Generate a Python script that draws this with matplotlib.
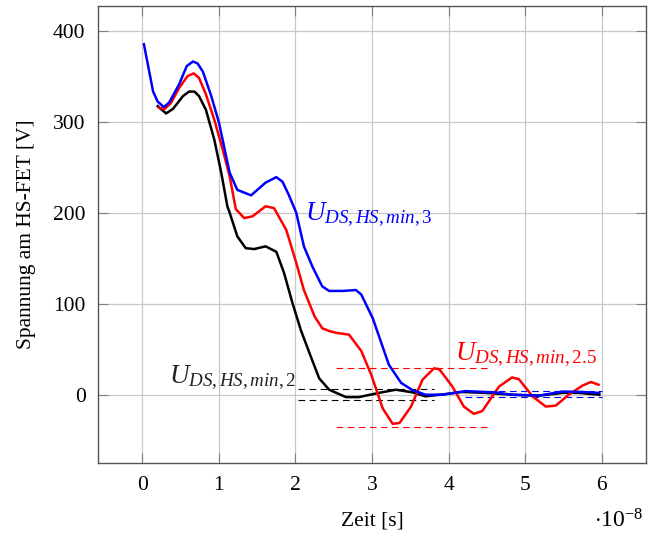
import numpy as np
import matplotlib.pyplot as plt

plt.rcParams['font.family'] = ['Liberation Serif', 'DejaVu Serif']
plt.rcParams['mathtext.fontset'] = 'custom'
plt.rcParams['mathtext.rm'] = 'Liberation Serif'
plt.rcParams['mathtext.it'] = 'Liberation Serif:italic'

# Zeit in Einheiten von 1e-8 s, Spannung in V
t_blue = [0.02, 0.14, 0.20, 0.28, 0.35, 0.48, 0.58, 0.66, 0.72, 0.79, 0.90, 1.00,
          1.14, 1.24, 1.42, 1.61, 1.75, 1.83, 1.91, 2.01, 2.11, 2.22, 2.35, 2.44,
          2.62, 2.79, 2.86, 3.01, 3.22, 3.38, 3.53, 3.70, 3.92, 4.22, 4.61, 4.83,
          5.18, 5.49, 5.75, 5.97]
u_blue = [385, 333, 322, 316, 321, 341, 361, 366, 364, 355, 328, 299,
          244, 225, 219, 233, 239, 234, 220, 200, 163, 141, 119, 114,
          114, 115, 110, 84, 33, 13, 5, 0, 0, 4, 2.5, 0,
          -1, 3.5, 3, 2]

t_red = [0.22, 0.29, 0.37, 0.48, 0.59, 0.67, 0.74, 0.83, 0.94, 1.05, 1.14, 1.22,
         1.33, 1.44, 1.61, 1.72, 1.88, 2.01, 2.11, 2.25, 2.35, 2.44, 2.53, 2.70,
         2.86, 2.99, 3.14, 3.27, 3.36, 3.51, 3.66, 3.81, 3.88, 4.05, 4.20, 4.33,
         4.44, 4.66, 4.83, 4.92, 5.10, 5.27, 5.40, 5.57, 5.75, 5.86, 5.96]
u_red = [315, 314, 320, 337, 350, 353, 348, 330, 302, 269, 240, 204,
         194, 196, 207, 205, 181, 145, 115, 86, 73, 70, 68, 66,
         48, 22, -15, -32, -31, -13, 16.5, 29, 28, 9, -13, -21,
         -18, 9, 19, 17, -2, -13, -12, 0, 10, 14, 11]

t_black = [0.20, 0.31, 0.40, 0.53, 0.61, 0.68, 0.74, 0.83, 0.94, 1.03, 1.11, 1.14,
           1.24, 1.35, 1.46, 1.61, 1.75, 1.85, 1.96, 2.07, 2.20, 2.31, 2.44, 2.66,
           2.83, 3.09, 3.31, 3.53, 3.70, 3.96, 4.18, 4.49, 4.83, 5.18, 5.49, 5.70,
           5.97]
u_black = [317, 309, 314, 328, 333, 333, 328, 313, 280, 244, 207, 200,
           174, 161, 160, 163, 157, 134, 101, 71, 42, 18, 5.5, -2.6,
           -2.6, 2, 5.5, 2.6, -1.8, 0.7, 3, 2, 0, -1, 2, 2,
           0]

# Toleranzbaender (x-Bereich, obere/untere Grenze)
band_black = ([2.03, 3.81], 6.5, -6.0)
band_red = ([2.53, 4.51], 29.5, -35.0)
band_blue = ([4.22, 6.0], 4.4, -3.0)

fig = plt.figure(figsize=(6.48, 5.38), dpi=100)
ax = fig.add_axes([98 / 648, 1 - 463 / 538, 548 / 648, 457 / 538])

ax.grid(True, color='#c8c8c8', linewidth=0.9)
ax.set_axisbelow(True)

for (xr, hi, lo), c in [(band_black, 'black'), (band_red, 'red'), (band_blue, 'blue')]:
    ax.plot(xr, [hi, hi], color=c, lw=0.8, dashes=(6, 4))
    ax.plot(xr, [lo, lo], color=c, lw=0.8, dashes=(6, 4))

ax.plot(t_black, u_black, color='black', lw=1.8)
ax.plot(t_red, u_red, color='red', lw=1.8)
ax.plot(t_blue, u_blue, color='blue', lw=1.8)

ax.text(2.12, 197, r'$U_{DS,HS,min,3}$', color='blue', fontsize=19.5, va='center', ha='left')
ax.text(4.08, 44, r'$U_{DS,HS,min,2.5}$', color='red', fontsize=19.5, va='center', ha='left')
ax.text(2.01, 19, r'$U_{DS,HS,min,2}$', color='#222222', fontsize=19.5, va='center', ha='right')

ax.set_xlim(-0.58, 6.58)
ax.set_ylim(-75, 427)
ax.set_xticks(range(0, 7))
ax.set_yticks([0, 100, 200, 300, 400])
ax.tick_params(direction='in', length=7, width=0.8, color='#808080', labelsize=15.5,
               top=True, right=True, pad=9)
for s in ax.spines.values():
    s.set_color('#555555')
    s.set_linewidth(1.0)

ax.set_xlabel('Zeit [s]', fontsize=15.5, labelpad=12)
ax.set_ylabel('Spannung am HS-FET [V]', fontsize=15.5, labelpad=12)
ax.text(1.0 - 3 / 548, -0.127, r'$\cdot 10^{-8}$', transform=ax.transAxes, fontsize=17,
        ha='right', va='center')

fig.savefig('out.png', dpi=100)
